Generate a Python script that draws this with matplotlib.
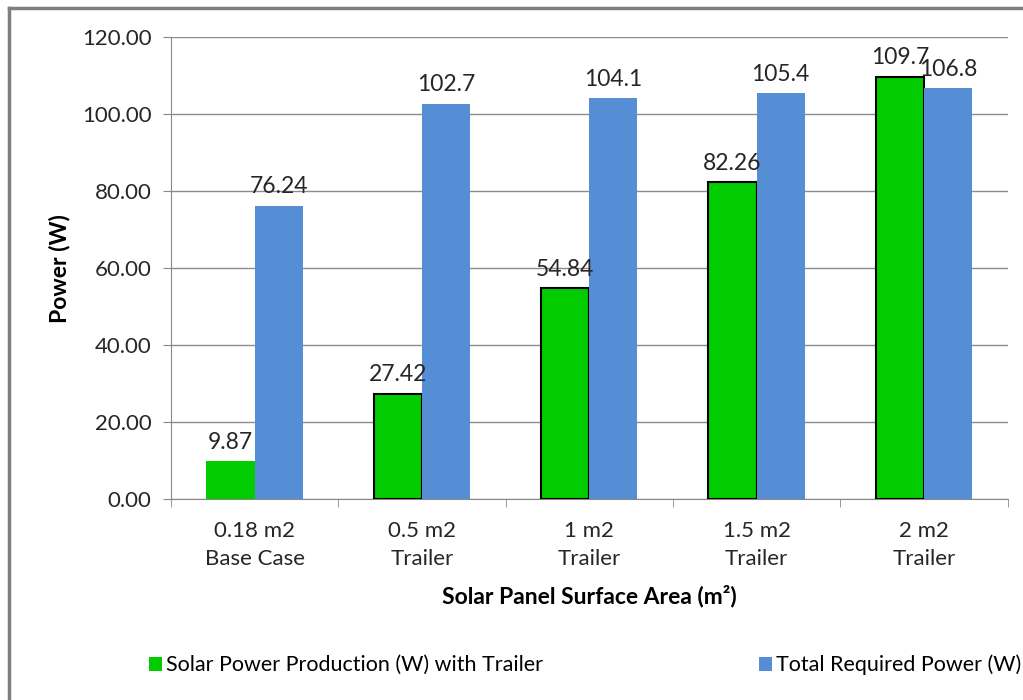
import matplotlib.pyplot as plt
import numpy as np

categories = ["0.18 m2\nBase Case", "0.5 m2\nTrailer", "1 m2\nTrailer", "1.5 m2\nTrailer", "2 m2\nTrailer"]
solar_power = [9.87, 27.42, 54.84, 82.26, 109.7]
required_power = [76.24, 102.7, 104.1, 105.4, 106.8]
solar_labels = ["9.87", "27.42", "54.84", "82.26", "109.7"]
required_labels = ["76.24", "102.7", "104.1", "105.4", "106.8"]

plt.rcParams["font.family"] = ["Lato", "DejaVu Sans"]

fig = plt.figure(figsize=(10.23, 7), dpi=100)
ax = fig.add_axes([0.167, 0.287, 0.818, 0.66])

x = np.arange(len(categories))
w = 0.288
green = "#00cc00"
blue = "#558ed5"
text_col = "#262626"

edges = ["none"] + ["black"] * (len(categories) - 1)
bars_g = ax.bar(x - w / 2, solar_power, w, color=green, edgecolor=edges, linewidth=1.5,
                label="Solar Power Production (W) with Trailer", zorder=3)
bars_b = ax.bar(x + w / 2, required_power, w, color=blue, label="Total Required Power (W)", zorder=3)

for bars, labels in [(bars_g, solar_labels), (bars_b, required_labels)]:
    for b, t in zip(bars, labels):
        ax.annotate(t, (b.get_x() + b.get_width() / 2, b.get_height()), xytext=(0, 6),
                    textcoords="offset points", ha="center", va="bottom", fontsize=16.5, color=text_col)

ax.set_xlim(-0.5, len(categories) - 0.5)
ax.set_ylim(0, 120)
ax.set_yticks(np.arange(0, 121, 20))
ax.set_yticklabels([f"{v:.2f}" for v in np.arange(0, 121, 20)], fontsize=16, color=text_col)
ax.set_xticks(x)
ax.set_xticklabels(categories, fontsize=16, color=text_col, linespacing=1.45)
ax.set_xticks(np.arange(-0.5, len(categories), 1), minor=True)
ax.tick_params(axis="x", which="major", length=0, pad=16)
ax.tick_params(axis="x", which="minor", length=6, color="#888888")
ax.tick_params(axis="y", length=6, color="#888888", pad=8)

ax.grid(axis="y", color="#8c8c8c", linewidth=1, zorder=0)
for side in ["top", "right"]:
    ax.spines[side].set_visible(False)
for side in ["left", "bottom"]:
    ax.spines[side].set_color("#888888")

ax.set_ylabel("Power (W)", fontsize=16.5, fontweight="bold", labelpad=8)
ax.set_xlabel("Solar Panel Surface Area (m²)", fontsize=16.5, fontweight="bold", labelpad=12)

fig.legend(loc="center", bbox_to_anchor=(0.572, 0.05), ncol=2, frameon=False, fontsize=15.5,
           handlelength=0.6, handleheight=0.6, handletextpad=0.2, columnspacing=10)

# grey outer frame on the left and top edges
fig.add_artist(plt.Line2D([0.009, 0.009], [0, 0.989], color="#7f7f7f", linewidth=2.5))
fig.add_artist(plt.Line2D([0.009, 1.0], [0.989, 0.989], color="#7f7f7f", linewidth=2.5))

fig.savefig("out.png", dpi=100)
